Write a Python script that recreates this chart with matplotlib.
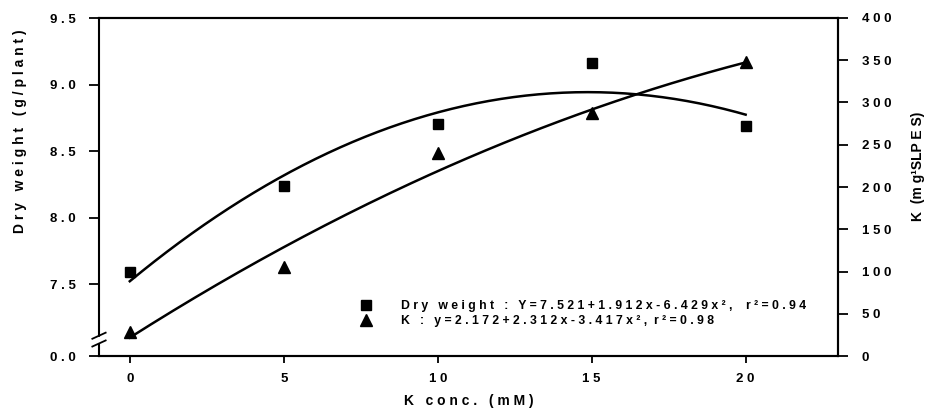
import numpy as np
import matplotlib
matplotlib.use('Agg')
import matplotlib.pyplot as plt
from matplotlib.lines import Line2D

plt.rcParams['font.family'] = ['Liberation Sans', 'DejaVu Sans']
plt.rcParams['font.weight'] = 'bold'
plt.rcParams['axes.labelweight'] = 'bold'

# data
k_conc = [0, 5, 10, 15, 20]
dry_weight = [7.59, 8.24, 8.70, 9.16, 8.69]
k_content = [28, 105, 240, 288, 348]

# fitted curves (coefficients from the legend, in plotted units)
dw_coef = [7.521, 0.1912, -0.006429]
k_coef = [21.72, 23.12, -0.3417]

dw_ticks = [6.959, 7.5, 8.0, 8.5, 9.0, 9.5]
dw_ticklabels = ['0.0', '7.5', '8.0', '8.5', '9.0', '9.5']
k_ticks = [0, 50, 100, 150, 200, 250, 300, 350, 400]
x_ticks = [0, 5, 10, 15, 20]


def sp(s):
    # imitate the wide letter spacing of the original
    return ' '.join(s)


fig = plt.figure(figsize=(9.28, 4.11), dpi=100)
ax = fig.add_axes([99/928, 55/411, 739/928, 338/411])
ax2 = ax.twinx()

xs = np.linspace(0, 20, 200)
ax.plot(xs, dw_coef[0] + dw_coef[1]*xs + dw_coef[2]*xs**2, color='black', lw=1.8)
ax.plot(k_conc, dry_weight, 's', color='black', ms=7.5, ls='none')
ax2.plot(xs, k_coef[0] + k_coef[1]*xs + k_coef[2]*xs**2, color='black', lw=1.8)
ax2.plot(k_conc, k_content, '^', color='black', ms=8.5, ls='none')

ax.set_xlim(-1, 23)
ax.set_ylim(6.959, 9.5)
ax2.set_ylim(0, 400)

ax.set_xticks(x_ticks)
ax.set_xticklabels([sp(str(t)) for t in x_ticks], fontweight='bold')
ax.set_yticks(dw_ticks)
ax.set_yticklabels([sp(t) for t in dw_ticklabels], fontweight='bold')
ax2.set_yticks(k_ticks)
ax2.set_yticklabels([sp(str(t)) for t in k_ticks], fontweight='bold')

for a in (ax, ax2):
    for s in a.spines.values():
        s.set_linewidth(1.5)
    a.tick_params(width=1.3, length=7, labelsize=9.5, direction='out')
ax.tick_params(axis='y', pad=10)
ax2.tick_params(axis='y', pad=10)
ax.tick_params(axis='x', length=5, pad=7)

# broken left axis
ax.spines['left'].set_visible(False)
ax2.spines['left'].set_visible(False)
ax.plot([0, 0], [0, 1], transform=ax.transAxes, color='black', lw=1.5, clip_on=False)
ax.add_patch(plt.Rectangle((-0.004, 0.040), 0.008, 0.016, transform=ax.transAxes,
                           color='white', clip_on=False, zorder=5))
for yb in (0.040, 0.063):
    ax.plot([-0.009, 0.009], [yb - 0.012, yb + 0.006], transform=ax.transAxes,
            color='black', lw=1.3, clip_on=False, zorder=6)

ax.set_xlabel(sp('K conc. (mM)'), fontsize=10, fontweight='bold', labelpad=7)
fig.text(20/928, 1 - 131/411, sp('Dry weight (g/plant)'), rotation=90, fontsize=10,
         fontweight='bold', ha='center', va='center')
fig.text(918/928, 1 - 166/411, 'K  (m g\u00b9SLP E S)', rotation=90, fontsize=10,
         fontweight='bold', ha='center', va='center')

handles = [Line2D([], [], marker='s', color='black', ls='none', ms=7.5),
           Line2D([], [], marker='^', color='black', ls='none', ms=8.5)]
labels = [sp('Dry weight : Y=7.521+1.912x-6.429x\u00b2,') + '    ' + sp('r\u00b2=0.94'),
          sp('K : y=2.172+2.312x-3.417x\u00b2,') + '  ' + sp('r\u00b2=0.98')]
ax2.legend(handles, labels, loc='lower left', bbox_to_anchor=(0.352, 0.085),
           frameon=False, prop={'size': 8.8, 'weight': 'bold'}, handlelength=1.2,
           handletextpad=2.2, labelspacing=0.25, borderpad=0, borderaxespad=0,
           numpoints=1)

plt.savefig('out.png', dpi=100)
